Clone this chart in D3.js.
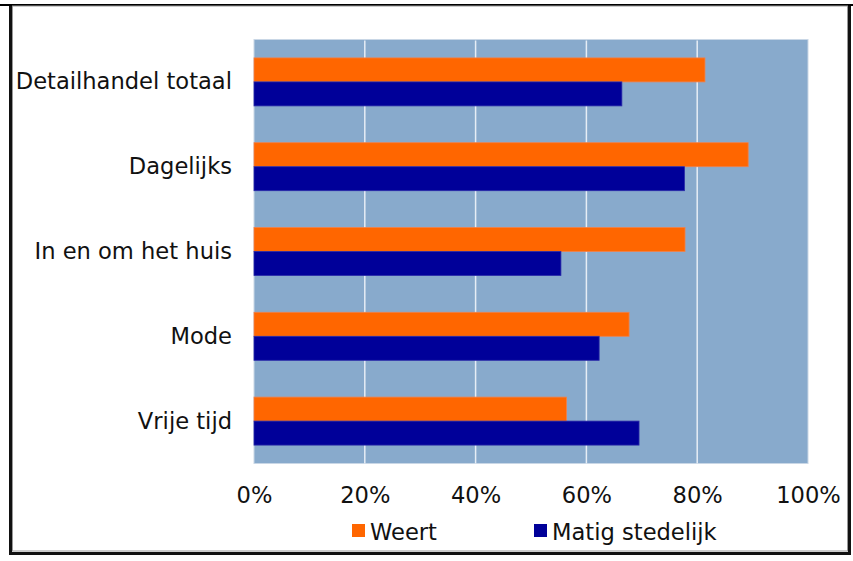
<!DOCTYPE html>
<html>
<head>
<meta charset="utf-8">
<script src="https://cdn.jsdelivr.net/npm/d3@7"></script>
<style>
html,body{margin:0;padding:0;background:#fff;}
svg{display:block;}
text{font-family:"DejaVu Sans",Verdana,sans-serif;fill:#111;}
</style>
</head>
<body>
<svg id="chart" width="853" height="561"></svg>
<script>
const categories = ["Detailhandel totaal","Dagelijks","In en om het huis","Mode","Vrije tijd"];
const seriesNames = ["Weert","Matig stedelijk"];
const weert = [0.814,0.892,0.778,0.677,0.564];
const matig = [0.664,0.777,0.554,0.623,0.695];
const tickValues = [0,0.2,0.4,0.6,0.8,1.0];
const colors = ["#ff6600","#000099"];

const FS = 22.6;
const svg = d3.select("#chart");

// frame
svg.append("line").attr("x1",0).attr("x2",853).attr("y1",5).attr("y2",5)
  .attr("stroke","#000").attr("stroke-width",2);
svg.append("rect").attr("x",12.5).attr("y",6).attr("width",835).attr("height",545)
  .attr("fill","none").attr("stroke","#999").attr("stroke-width",1);
svg.append("path").attr("d","M10.5,6 V553.5 H849.5 V6")
  .attr("fill","none").attr("stroke","#111").attr("stroke-width",3);

const plot = {left:254, right:808, top:39.5, bottom:463.5};
const x = d3.scaleLinear().domain([0,1]).range([plot.left, plot.right]);
const y = d3.scaleBand().domain(categories).range([plot.top, plot.bottom]).paddingInner(0).paddingOuter(0);
const barH = 24;

svg.append("rect").attr("x",plot.left).attr("y",plot.top)
  .attr("width",plot.right-plot.left).attr("height",plot.bottom-plot.top)
  .attr("fill","#88aacc").attr("stroke","#c9d7e6").attr("stroke-width",1);

// gridlines
svg.append("g").selectAll("line").data(tickValues.filter(v=>v>0 && v<1)).join("line")
  .attr("x1",d=>x(d)).attr("x2",d=>x(d)).attr("y1",plot.top+1).attr("y2",plot.bottom)
  .attr("stroke","#e6edf5").attr("stroke-width",1.5);

// bars
const data = categories.map((c,i)=>({c, v:[weert[i], matig[i]]}));
const g = svg.append("g");
data.forEach(d=>{
  const cy = y(d.c) + y.bandwidth()/2;
  d.v.forEach((v,j)=>{
    g.append("rect")
      .attr("x",x(0)).attr("y",cy - barH + j*barH)
      .attr("width",x(v)-x(0)).attr("height",barH)
      .attr("fill",colors[j])
      .attr("stroke", j===0 ? "#f0804a" : "#2a2aa8").attr("stroke-width",0.8);
  });
});

// category labels
svg.append("g").selectAll("text").data(categories).join("text")
  .attr("x",232).attr("y",d=>y(d)+y.bandwidth()/2+1)
  .attr("text-anchor","end").attr("dominant-baseline","middle")
  .attr("font-size",FS).text(d=>d);

// x axis tick labels
const xAxis = d3.axisBottom(x).tickValues(tickValues).tickFormat(d3.format(".0%")).tickSize(0).tickPadding(0);
const ax = svg.append("g").attr("transform",`translate(0,${plot.bottom})`).call(xAxis);
ax.select(".domain").remove();
ax.selectAll("text").attr("font-size",FS).attr("dy",null).attr("y",39)
  .style("font-family","'DejaVu Sans',Verdana,sans-serif").attr("fill","#111");

// legend
const legendItems = [{name:seriesNames[0],x:352},{name:seriesNames[1],x:534}];
const lg = svg.append("g");
legendItems.forEach((it,i)=>{
  lg.append("rect").attr("x",it.x).attr("y",524).attr("width",13).attr("height",13).attr("fill",colors[i]);
  lg.append("text").attr("x",it.x+18).attr("y",540).attr("font-size",FS).text(it.name);
});
</script>
</body>
</html>
